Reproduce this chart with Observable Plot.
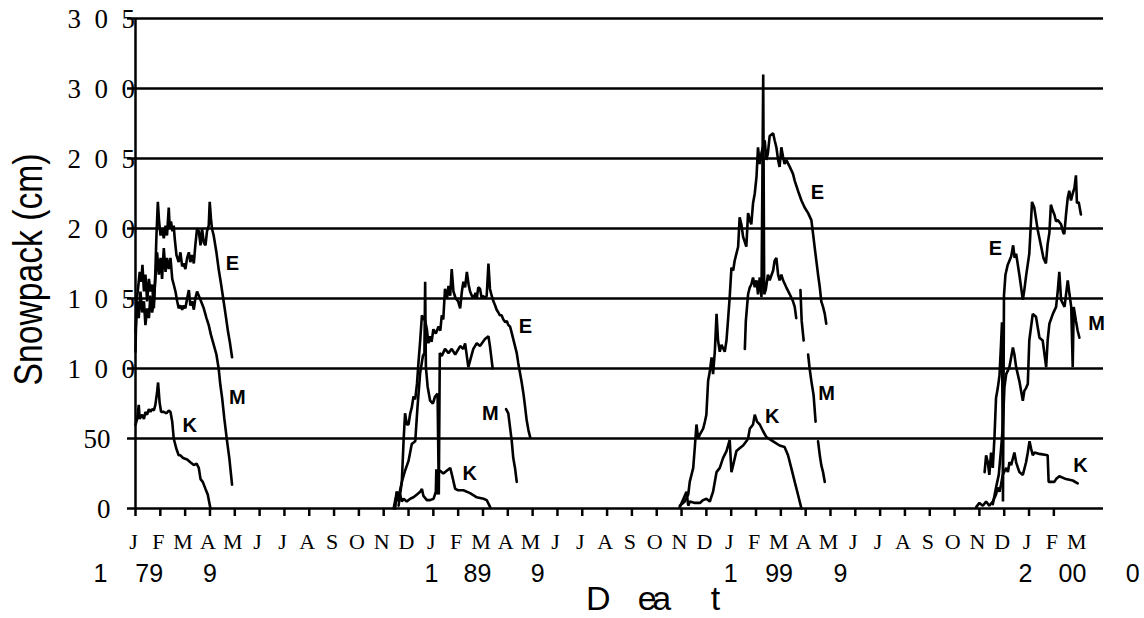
<!DOCTYPE html>
<html><head><meta charset="utf-8">
<script src="https://cdn.jsdelivr.net/npm/d3@7"></script>
<script src="https://cdn.jsdelivr.net/npm/@observablehq/plot@0.6"></script>
<style>html,body{margin:0;padding:0;background:#fff}</style>
</head><body><div id="chart"></div>
<script>
// month letters along the axis (index = month position)
const monthLetters = ["J","F","M","A","M","J","J","A","S","O","N","D",
                      "J","F","M","A","M","J","J","A","S","O","N","D",
                      "J","F","M","A","M","J","J","A","S","O","N","D",
                      "J","F","M"];
const yTickValues = [0, 50, 100, 150, 200, 250, 300, 350];
const yTickLabels = ["0", "50", "1 0 0", "1 0 5", "2 0 0", "2 0 5", "3 0 0", "3 0 5"];
// year labels as printed (month position, text)
const yearLabels = [
  {m: -1.41, t: "1"}, {m: 0.55, t: "79"}, {m: 3.0, t: "9"},
  {m: 11.92, t: "1"}, {m: 13.78, t: "89"}, {m: 16.2, t: "9"},
  {m: 23.98, t: "1"}, {m: 25.93, t: "99"}, {m: 28.4, t: "9"},
  {m: 35.86, t: "2"}, {m: 37.75, t: "00"}, {m: 40.18, t: "0"}
];
const xTitle = [{m: 18.65, t: "D"}, {m: 20.62, t: "e"}, {m: 21.2, t: "a"}, {m: 23.37, t: "t"}];
const yTitle = "Snowpack (cm)";

// snowpack series: [month position, snowpack]
const e1 = [[0,112],[0.04,148],[0.09,155],[0.17,169],[0.23,162],[0.28,174],[0.34,155],[0.40,167],[0.47,148],[0.54,164],[0.60,155],[0.67,160],[0.74,143],[0.80,169],[0.84,193],[0.90,219],[0.95,205],[1.01,195],[1.07,200],[1.14,193],[1.21,202],[1.27,195],[1.34,215],[1.38,200],[1.43,205],[1.49,198],[1.54,202],[1.58,193],[1.65,181],[1.74,176],[1.81,183],[1.88,173],[1.94,175],[2.01,171],[2.08,179],[2.15,183],[2.21,176],[2.28,181],[2.35,175],[2.41,188],[2.48,200],[2.55,198],[2.62,188],[2.68,200],[2.75,190],[2.82,188],[2.88,198],[2.95,202],[2.99,219],[3.04,207],[3.08,200],[3.15,195],[3.26,183],[3.35,171],[3.45,160],[3.55,148],[3.65,136],[3.73,126],[3.80,119],[3.89,108]];
const m1 = [[0,126],[0.07,148],[0.13,136],[0.20,155],[0.27,140],[0.34,148],[0.40,131],[0.47,143],[0.54,136],[0.60,152],[0.67,140],[0.74,148],[0.80,164],[0.87,183],[0.94,167],[1.01,179],[1.07,164],[1.14,186],[1.21,169],[1.27,179],[1.34,171],[1.41,179],[1.48,164],[1.54,160],[1.61,155],[1.68,148],[1.74,143],[1.81,145],[1.88,142],[1.94,145],[2.01,143],[2.08,150],[2.15,156],[2.21,145],[2.28,148],[2.35,142],[2.41,150],[2.48,155],[2.55,152],[2.64,148],[2.75,143],[2.86,136],[2.95,131],[3.04,124],[3.15,117],[3.26,110],[3.35,100],[3.42,88],[3.49,79],[3.58,64],[3.69,48],[3.78,36],[3.89,17]];
const k1 = [[0,60],[0.07,64],[0.13,74],[0.17,64],[0.27,67],[0.34,64],[0.40,69],[0.47,67],[0.54,71],[0.60,69],[0.67,71],[0.74,70],[0.80,74],[0.87,83],[0.91,90],[0.97,76],[1.03,69],[1.14,69],[1.25,68],[1.34,70],[1.41,69],[1.48,62],[1.54,50],[1.64,43],[1.74,38],[1.81,38],[1.92,36],[2.08,35],[2.21,33],[2.35,31],[2.46,32],[2.55,29],[2.62,21],[2.71,19],[2.82,14],[2.91,10],[3.02,0]];

const e2 = [[10.4,0],[10.53,12],[10.6,8],[10.73,19],[10.8,48],[10.86,68],[10.93,60],[11.0,60],[11.07,68],[11.13,72],[11.2,80],[11.27,78],[11.34,89],[11.4,104],[11.47,120],[11.54,138],[11.6,136],[11.67,134],[11.74,128],[11.8,118],[11.87,123],[11.93,119],[12.0,128],[12.1,125],[12.21,130],[12.28,127],[12.34,138],[12.4,135],[12.47,157],[12.55,150],[12.61,159],[12.68,152],[12.74,171],[12.81,155],[12.9,150],[13.0,148],[13.08,143],[13.15,155],[13.21,162],[13.28,158],[13.35,169],[13.42,160],[13.48,155],[13.55,152],[13.61,150],[13.7,154],[13.75,150],[13.81,158],[13.88,157],[13.95,150],[14.0,152],[14.08,150],[14.15,152],[14.22,175],[14.28,157],[14.35,152],[14.42,148],[14.49,145],[14.55,142],[14.62,140],[14.68,138],[14.75,138],[14.82,135],[14.9,133],[14.96,134],[15.02,131],[15.09,130],[15.15,126],[15.22,121],[15.29,116],[15.36,111],[15.42,104],[15.49,97],[15.56,90],[15.63,82],[15.7,72],[15.76,63],[15.83,56],[15.9,51]];
const m2 = [[10.6,2],[10.73,19],[10.86,27],[11.0,34],[11.13,46],[11.27,48],[11.36,72],[11.47,97],[11.58,109],[11.64,111],[11.67,162],[11.7,101],[11.77,87],[11.87,77],[11.98,75],[12.07,80],[12.17,82],[12.22,10],[12.26,111],[12.34,109],[12.47,114],[12.61,111],[12.74,114],[12.88,110],[13.08,116],[13.21,114],[13.28,118],[13.41,101],[13.61,114],[13.75,118],[13.88,116],[14.08,121],[14.22,123],[14.28,116],[14.39,100],[14.6,null],[14.93,71],[15.02,68],[15.09,58],[15.16,48],[15.22,36],[15.29,29],[15.36,19]];
const k2 = [[10.46,0],[10.53,12],[10.6,5],[10.66,10],[10.73,5],[10.8,7],[10.93,5],[11.07,7],[11.2,8],[11.34,10],[11.47,12],[11.54,14],[11.6,9],[11.74,6],[11.87,6],[12.01,7],[12.1,12],[12.12,28],[12.15,10],[12.2,27],[12.27,27],[12.4,25],[12.54,27],[12.68,29],[12.75,24],[12.88,14],[13.0,13],[13.21,13],[13.48,11],[13.75,8],[14.02,7],[14.15,6],[14.29,1]];

const e3 = [[21.93,2],[22.13,5],[22.27,10],[22.33,19],[22.47,29],[22.54,45],[22.6,60],[22.67,50],[22.74,53],[22.87,57],[22.94,62],[23.0,67],[23.07,91],[23.14,98],[23.21,108],[23.27,96],[23.34,112],[23.41,139],[23.47,120],[23.54,112],[23.61,117],[23.74,112],[23.81,120],[23.87,134],[23.94,151],[24.01,172],[24.08,170],[24.14,177],[24.28,187],[24.34,208],[24.41,203],[24.48,194],[24.61,187],[24.68,211],[24.75,206],[24.81,203],[24.88,218],[24.95,225],[25.02,237],[25.08,258],[25.15,246],[25.22,254],[25.35,263],[25.42,249],[25.48,254],[25.55,266],[25.69,268],[25.75,263],[25.82,258],[25.89,249],[25.95,244],[26.02,258],[26.09,251],[26.15,246],[26.22,249],[26.36,244],[26.49,239],[26.56,234],[26.69,227],[26.83,220],[26.96,215],[27.1,211],[27.23,206],[27.3,196],[27.36,187],[27.43,177],[27.5,167],[27.57,158],[27.63,148],[27.7,144],[27.77,139],[27.83,132]];
const m3 = [[24.55,114],[24.59,134],[24.68,153],[24.75,158],[24.81,160],[24.88,165],[24.95,158],[25.02,163],[25.08,153],[25.15,165],[25.22,151],[25.29,310],[25.33,153],[25.39,156],[25.48,167],[25.55,163],[25.69,170],[25.75,177],[25.82,179],[25.89,167],[25.95,163],[26.02,167],[26.09,163],[26.22,158],[26.36,153],[26.49,148],[26.56,144],[26.62,136],[26.7,null],[26.79,156],[26.84,134],[26.92,120],[27.0,null],[27.1,110],[27.16,100],[27.23,91],[27.32,81],[27.4,62],[27.45,null],[27.5,48],[27.57,38],[27.63,31],[27.7,26],[27.77,19]];
const k3 = [[21.93,1],[22.2,12],[22.27,2],[22.33,5],[22.54,4],[22.74,4],[22.87,6],[23.0,7],[23.14,5],[23.27,12],[23.41,26],[23.54,29],[23.67,36],[23.81,41],[23.94,49],[24.01,26],[24.08,31],[24.21,41],[24.34,43],[24.48,45],[24.61,48],[24.68,50],[24.75,57],[24.88,60],[24.95,67],[25.04,62],[25.15,60],[25.29,55],[25.42,51],[25.69,48],[25.95,45],[26.15,44],[26.29,38],[26.42,29],[26.56,19],[26.69,10],[26.83,0]];

const e4 = [[34.21,26],[34.27,38],[34.34,33],[34.4,24],[34.47,40],[34.54,29],[34.61,52],[34.67,79],[34.74,86],[34.81,95],[34.87,117],[34.91,133],[34.95,5],[34.99,152],[35.05,167],[35.14,174],[35.28,180],[35.32,184],[35.36,188],[35.42,179],[35.48,182],[35.61,167],[35.75,149],[35.81,156],[35.88,166],[36.01,182],[36.12,219],[36.21,215],[36.35,199],[36.49,187],[36.58,179],[36.68,175],[36.75,189],[36.82,197],[36.88,217],[36.95,213],[37.02,210],[37.09,205],[37.16,206],[37.29,203],[37.38,197],[37.42,196],[37.49,210],[37.56,222],[37.62,227],[37.69,220],[37.76,225],[37.83,229],[37.89,238],[37.93,218],[38.0,219],[38.09,210]];
const m4 = [[34.54,3],[34.67,15],[34.78,24],[34.88,44],[34.94,58],[35.01,87],[35.08,96],[35.21,101],[35.28,108],[35.35,115],[35.41,110],[35.48,101],[35.61,91],[35.75,77],[35.81,84],[35.88,86],[35.95,89],[36.01,120],[36.15,139],[36.28,137],[36.42,122],[36.55,120],[36.69,101],[36.75,120],[36.82,132],[36.96,139],[37.09,144],[37.16,156],[37.22,169],[37.29,149],[37.43,144],[37.56,163],[37.63,153],[37.7,144],[37.76,101],[37.8,144],[37.89,134],[37.96,127],[38.03,122]];
const k4 = [[33.87,1],[34.0,4],[34.14,2],[34.27,5],[34.4,2],[34.54,5],[34.67,10],[34.74,15],[34.81,12],[34.87,17],[34.94,24],[35.08,29],[35.15,26],[35.21,33],[35.28,31],[35.41,40],[35.48,33],[35.61,26],[35.75,24],[35.88,33],[35.95,40],[36.02,48],[36.08,43],[36.15,38],[36.22,40],[36.42,39],[36.75,38],[36.79,19],[37.02,19],[37.09,21],[37.22,23],[37.49,21],[37.76,20],[37.96,18]];

// site labels next to the curves
const siteLabels = [
  {t: "E", m: 3.9, v: 175}, {t: "M", m: 4.1, v: 79}, {t: "K", m: 2.18, v: 59},
  {t: "E", m: 15.71, v: 130}, {t: "M", m: 14.3, v: 68}, {t: "K", m: 13.47, v: 25},
  {t: "E", m: 27.47, v: 226}, {t: "M", m: 27.84, v: 82}, {t: "K", m: 25.65, v: 66},
  {t: "E", m: 34.65, v: 186}, {t: "M", m: 38.72, v: 132}, {t: "K", m: 38.07, v: 31}
];

const seriesList = {e1, m1, k1, e2, m2, k2, e3, m3, k3, e4, m4, k4};
const rows = [];
for (const [name, arr] of Object.entries(seriesList)) {
  for (const [m, v] of arr) rows.push({series: name, month: m, snow: v});
}
const monthRows = monthLetters.map((t, i) => ({i, t}));
const monthTicks = monthLetters.slice(0, -1).map((_, i) => i);
const yRows = yTickValues.map((v, i) => ({v, t: yTickLabels[i]}));

const serif = "'Liberation Serif', 'Times New Roman', serif";
const sans = "'Liberation Sans', Arial, sans-serif";

const chart = Plot.plot({
  width: 1144, height: 618,
  marginLeft: 135, marginRight: 41, marginTop: 18, marginBottom: 110,
  x: {domain: [0, 39]},
  y: {domain: [0, 350]},
  style: {background: "white", color: "black", overflow: "visible"},
  marks: [
    Plot.ruleY(yTickValues, {stroke: "black", strokeWidth: 2.5}),
    Plot.ruleX([0], {stroke: "black", strokeWidth: 2.5}),
    Plot.axisY({ticks: yTickValues, tickSize: 8, tickFormat: () => "", strokeWidth: 2.5}),
    Plot.axisX({ticks: monthTicks, tickSize: 8, tickFormat: () => "", strokeWidth: 2.5}),
    Plot.line(rows, {x: "month", y: "snow", z: "series", stroke: "black", strokeWidth: 2.6, strokeLinejoin: "miter"}),
    Plot.text(siteLabels, {x: "m", y: "v", text: "t", fontFamily: sans, fontWeight: "bold", fontSize: 20, fill: "black"}),
    Plot.text(yRows.filter(d => d.t.length > 2), {y: "v", text: "t", frameAnchor: "left", textAnchor: "end", lineAnchor: "middle", dx: 3, dy: 1, fontFamily: serif, fontSize: 27, fill: "black"}),
    Plot.text(yRows.filter(d => d.t.length <= 2), {y: "v", text: "t", frameAnchor: "left", textAnchor: "end", lineAnchor: "middle", dx: -25, dy: 1, fontFamily: serif, fontSize: 27, fill: "black"}),
    Plot.text(monthRows, {x: "i", text: "t", frameAnchor: "bottom", lineAnchor: "middle", dy: 33, dx: -2, fontFamily: serif, fontSize: 22, fill: "black"}),
    Plot.text(yearLabels, {x: "m", text: "t", frameAnchor: "bottom", lineAnchor: "middle", dy: 65, fontFamily: sans, fontSize: 25, fill: "black"}),
    Plot.text(xTitle, {x: "m", text: "t", frameAnchor: "bottom", lineAnchor: "middle", dy: 91, fontFamily: sans, fontSize: 34, fill: "black"}),
    Plot.text([yTitle], {frameAnchor: "left", textAnchor: "start", lineAnchor: "middle", dx: -106, dy: 122, rotate: -90, fontFamily: sans, fontSize: 40, fill: "black"})
  ]
});
document.getElementById("chart").appendChild(chart);

const svg = d3.select(chart);
svg.selectAll("text").filter(function() { return /^\d( \d)+$/.test(this.textContent); })
  .attr("letter-spacing", "3.4px");
svg.selectAll("text").filter(function() { return this.textContent === yTitle; })
  .attr("textLength", 232).attr("lengthAdjust", "spacingAndGlyphs");
</script>
</body></html>
